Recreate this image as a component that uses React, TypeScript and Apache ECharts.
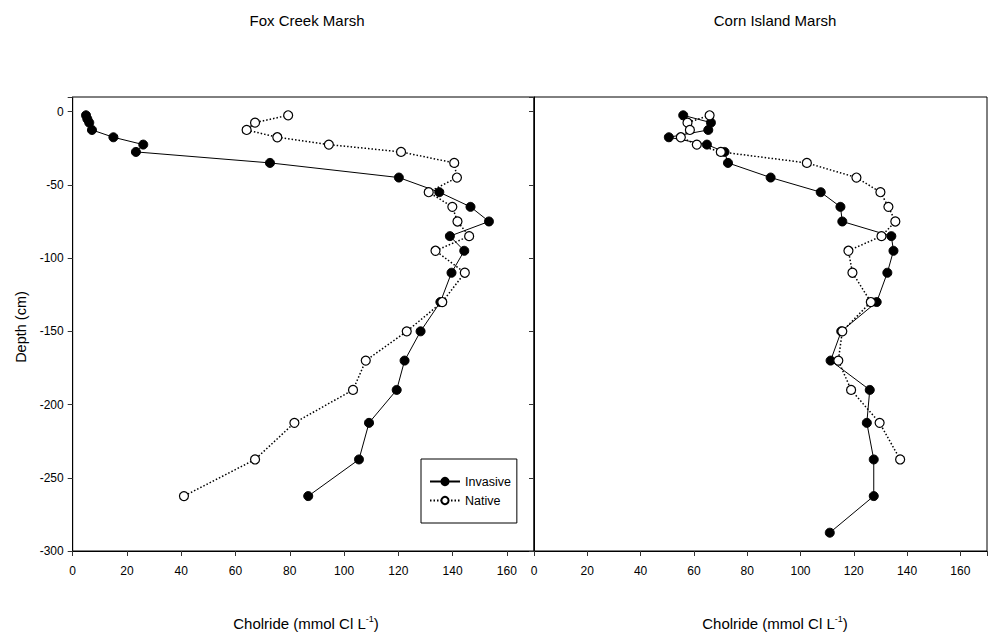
import React, { useEffect, useRef } from "react";
import * as echarts from "echarts";

// Tick values
const xTickValues = [0, 20, 40, 60, 80, 100, 120, 140, 160];
const yTickValues = [0, -50, -100, -150, -200, -250, -300];

// Fox Creek Marsh
const foxInvDepth = [-2.5, -5, -7.5, -12.5, -17.5, -22.5, -27.5, -35, -45, -55, -65, -75, -85, -95, -110, -130, -150, -170, -190, -212.5, -237.5, -262.5];
const foxInvValue = [4.9, 5.4, 6.1, 7.1, 15, 26, 23.3, 72.7, 120.2, 135.1, 146.6, 153.4, 139, 144.3, 139.6, 135.5, 128.2, 122.3, 119.4, 109.2, 105.5, 86.8];
const foxNatDepth = [-2.5, -7.5, -12.5, -17.5, -22.5, -27.5, -35, -45, -55, -65, -75, -85, -95, -110, -130, -150, -170, -190, -212.5, -237.5, -262.5];
const foxNatValue = [79.4, 67.2, 64.1, 75.4, 94.4, 121, 140.6, 141.6, 131.2, 139.9, 141.8, 146.1, 133.7, 144.5, 136.2, 123.1, 108, 103.3, 81.7, 67.2, 41];

// Corn Island Marsh
const cornInvDepth = [-2.5, -7.5, -12.5, -17.5, -22.5, -27.5, -35, -45, -55, -65, -75, -85, -95, -110, -130, -150, -170, -190, -212.5, -237.5, -262.5, -287.5];
const cornInvValue = [56, 66.4, 65.4, 50.6, 64.9, 71.5, 72.8, 88.8, 107.6, 115, 115.7, 134.1, 134.9, 132.6, 128.6, 115.3, 111.3, 126, 124.9, 127.5, 127.5, 111];
const cornNatDepth = [-2.5, -7.5, -12.5, -17.5, -22.5, -27.5, -35, -45, -55, -65, -75, -85, -95, -110, -130, -150, -170, -190, -212.5, -237.5];
const cornNatValue = [65.9, 57.6, 58.5, 55.1, 61.1, 70.1, 102.4, 121, 130, 133, 135.6, 130.4, 118, 119.5, 126.4, 115.7, 114.2, 119, 129.7, 137.4];

const panelTitles = ["Fox Creek Marsh", "Corn Island Marsh"];
const seriesNames = ["Invasive", "Native"];
const xTitle = "Cholride (mmol Cl L{sup|-1})";
const yTitle = "Depth (cm)";

const FONT = "'Liberation Sans Narrow', 'Arial Narrow', 'Liberation Sans', Arial, sans-serif";

function pairs(vals: number[], depths: number[]) {
  return vals.map((v, i) => [v, depths[i]]);
}

export default function App() {
  const ref = useRef<HTMLDivElement>(null);
  useEffect(() => {
    document.body.style.margin = "0";
    if (!ref.current) return;
    const chart = echarts.init(ref.current, null, { renderer: "svg" });

    const xAxisBase = (gridIndex: number) => ({
      type: "value" as const,
      gridIndex,
      min: 0,
      max: 170,
      interval: 20,
      axisLine: { show: true, onZero: false, lineStyle: { color: "#000", width: 1 } },
      axisTick: { show: true, inside: false, length: 5, lineStyle: { color: "#333" } },
      splitLine: { show: false },
      axisLabel: {
        margin: 14,
        color: "#000",
        fontFamily: FONT,
        fontSize: 12,
        formatter: (v: number) => (xTickValues.includes(v) ? String(v) : ""),
      },
    });
    const yAxisBase = (gridIndex: number, labels: boolean) => ({
      type: "value" as const,
      gridIndex,
      min: -300,
      max: 10,
      interval: 50,
      axisLine: { show: true, onZero: false, lineStyle: { color: "#000", width: 1 } },
      axisTick: { show: true, inside: false, length: 5, lineStyle: { color: "#333" } },
      splitLine: { show: false },
      axisLabel: {
        show: labels,
        margin: 9,
        color: "#000",
        fontFamily: FONT,
        fontSize: 12,
        formatter: (v: number) => (yTickValues.includes(v) ? String(v) : ""),
      },
    });

    const invStyle = (xi: number, data: number[][]) => ({
      name: seriesNames[0],
      type: "line" as const,
      xAxisIndex: xi,
      yAxisIndex: xi,
      data,
      symbol: "circle",
      symbolSize: 9,
      lineStyle: { color: "#000", width: 1, type: "solid" as const },
      itemStyle: { color: "#000", borderColor: "#000", borderWidth: 1 },
      z: 2,
    });
    const natStyle = (xi: number, data: number[][]) => ({
      name: seriesNames[1],
      type: "line" as const,
      xAxisIndex: xi,
      yAxisIndex: xi,
      data,
      symbol: "circle",
      symbolSize: 9,
      lineStyle: { color: "#000", width: 1.5, type: [1.5, 2] as any },
      itemStyle: { color: "#fff", borderColor: "#000", borderWidth: 1.2 },
      z: 3,
    });

    const axisTitle = (x: number) => ({
      type: "text",
      x,
      y: 623,
      style: {
        text: xTitle,
        fontFamily: FONT,
        fontSize: 15,
        fill: "#000",
        align: "center",
        verticalAlign: "middle",
        rich: { sup: { fontFamily: FONT, fontSize: 9, verticalAlign: "top", padding: [0, 0, 9, 0] } },
      },
    });

    chart.setOption({
      animation: false,
      backgroundColor: "#fff",
      grid: [
        { left: 72.7, top: 97, width: 461.3, height: 454, show: true, borderColor: "#000", borderWidth: 1, containLabel: false },
        { left: 534, top: 97, width: 461.3, height: 454, show: true, borderColor: "#000", borderWidth: 1, containLabel: false },
      ],
      xAxis: [xAxisBase(0), xAxisBase(1)],
      yAxis: [yAxisBase(0, true), yAxisBase(1, false)],
      legend: {
        left: 421,
        top: 459,
        orient: "vertical",
        data: seriesNames,
        borderColor: "#000",
        borderWidth: 1,
        borderRadius: 0,
        padding: [16, 6, 16, 8],
        itemWidth: 30,
        itemHeight: 9,
        itemGap: 6,
        textStyle: { fontFamily: FONT, fontSize: 12.5, color: "#000" },
      },
      graphic: [
        {
          type: "text",
          x: 307,
          y: 20,
          style: { text: panelTitles[0], fontFamily: FONT, fontSize: 15, fill: "#000", align: "center", verticalAlign: "middle" },
        },
        {
          type: "text",
          x: 775,
          y: 20,
          style: { text: panelTitles[1], fontFamily: FONT, fontSize: 15, fill: "#000", align: "center", verticalAlign: "middle" },
        },
        {
          type: "text",
          x: 21,
          y: 327,
          rotation: Math.PI / 2,
          style: { text: yTitle, fontFamily: FONT, fontSize: 14.5, fill: "#000", align: "center", verticalAlign: "middle" },
        },
        axisTitle(306),
        axisTitle(775),
      ],
      series: [
        invStyle(0, pairs(foxInvValue, foxInvDepth)),
        natStyle(0, pairs(foxNatValue, foxNatDepth)),
        invStyle(1, pairs(cornInvValue, cornInvDepth)),
        natStyle(1, pairs(cornNatValue, cornNatDepth)),
      ],
    });
    return () => chart.dispose();
  }, []);
  return <div ref={ref} style={{ width: 990, height: 640 }} />;
}
